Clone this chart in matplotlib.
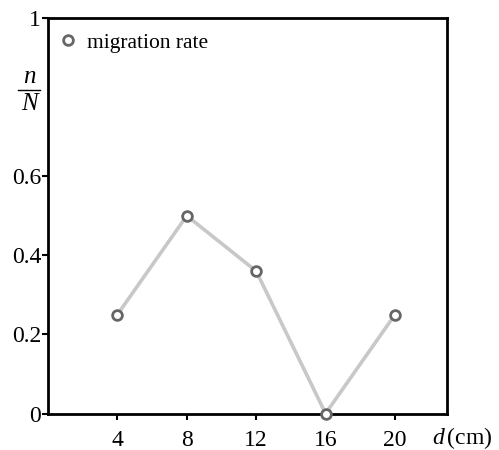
import matplotlib.pyplot as plt
from matplotlib.lines import Line2D

plt.rcParams['font.family'] = ['Liberation Serif', 'DejaVu Serif']
plt.rcParams['mathtext.fontset'] = 'custom'
plt.rcParams['mathtext.rm'] = 'Liberation Serif'
plt.rcParams['mathtext.it'] = 'Liberation Serif:italic'

# distance (cm) and migration rate n/N
d_cm = [4, 8, 12, 16, 20]
rate = [0.25, 0.5, 0.36, 0.0, 0.25]
y_ticks = [0, 0.2, 0.4, 0.6, 1]
y_labels = ['0', '0.2', '0.4', '0.6', '1']

fig = plt.figure(figsize=(4.99, 4.5), dpi=100)
ax = fig.add_axes([0.0962, 0.0811, 0.7996, 0.8789])

ax.plot(d_cm, rate, color='#c8c8c8', lw=2.6, zorder=2)
ax.plot(d_cm, rate, ls='none', marker='o', ms=7, mfc='white',
        mec='#666666', mew=2.0, label='migration rate', zorder=3, clip_on=False)

ax.set_xlim(0, 23)
ax.set_ylim(0, 1)
ax.set_xticks(d_cm)
ax.set_yticks(y_ticks)
ax.set_yticklabels(y_labels)
ax.tick_params(labelsize=17, length=4, width=1.5, direction='out', pad=1)
ax.tick_params(axis='x', pad=8)

for side in ['left', 'bottom', 'top', 'right']:
    ax.spines[side].set_linewidth(2)
    ax.spines[side].set_color('black')

ax.legend(loc='upper left', frameon=False, fontsize=15.5, handlelength=0.6,
          handletextpad=0.6, borderaxespad=0.0, bbox_to_anchor=(0.0125, 0.985))

# y label written as a fraction n over N
ax.text(-0.0476, 0.851, 'n', transform=ax.transAxes, fontsize=18,
        style='italic', ha='center', va='center')
ax.text(-0.0476, 0.783, 'N', transform=ax.transAxes, fontsize=18,
        style='italic', ha='center', va='center')
ax.add_line(Line2D([-0.075, -0.020], [0.819, 0.819], transform=ax.transAxes,
                   color='black', lw=1, clip_on=False))

ax.annotate(r'$d\,$(cm)', xy=(0.962, 0), xycoords='axes fraction',
            xytext=(0, -25), textcoords='offset pixels',
            fontsize=17, ha='left', va='center', annotation_clip=False)

fig.savefig('out.png', dpi=100)
